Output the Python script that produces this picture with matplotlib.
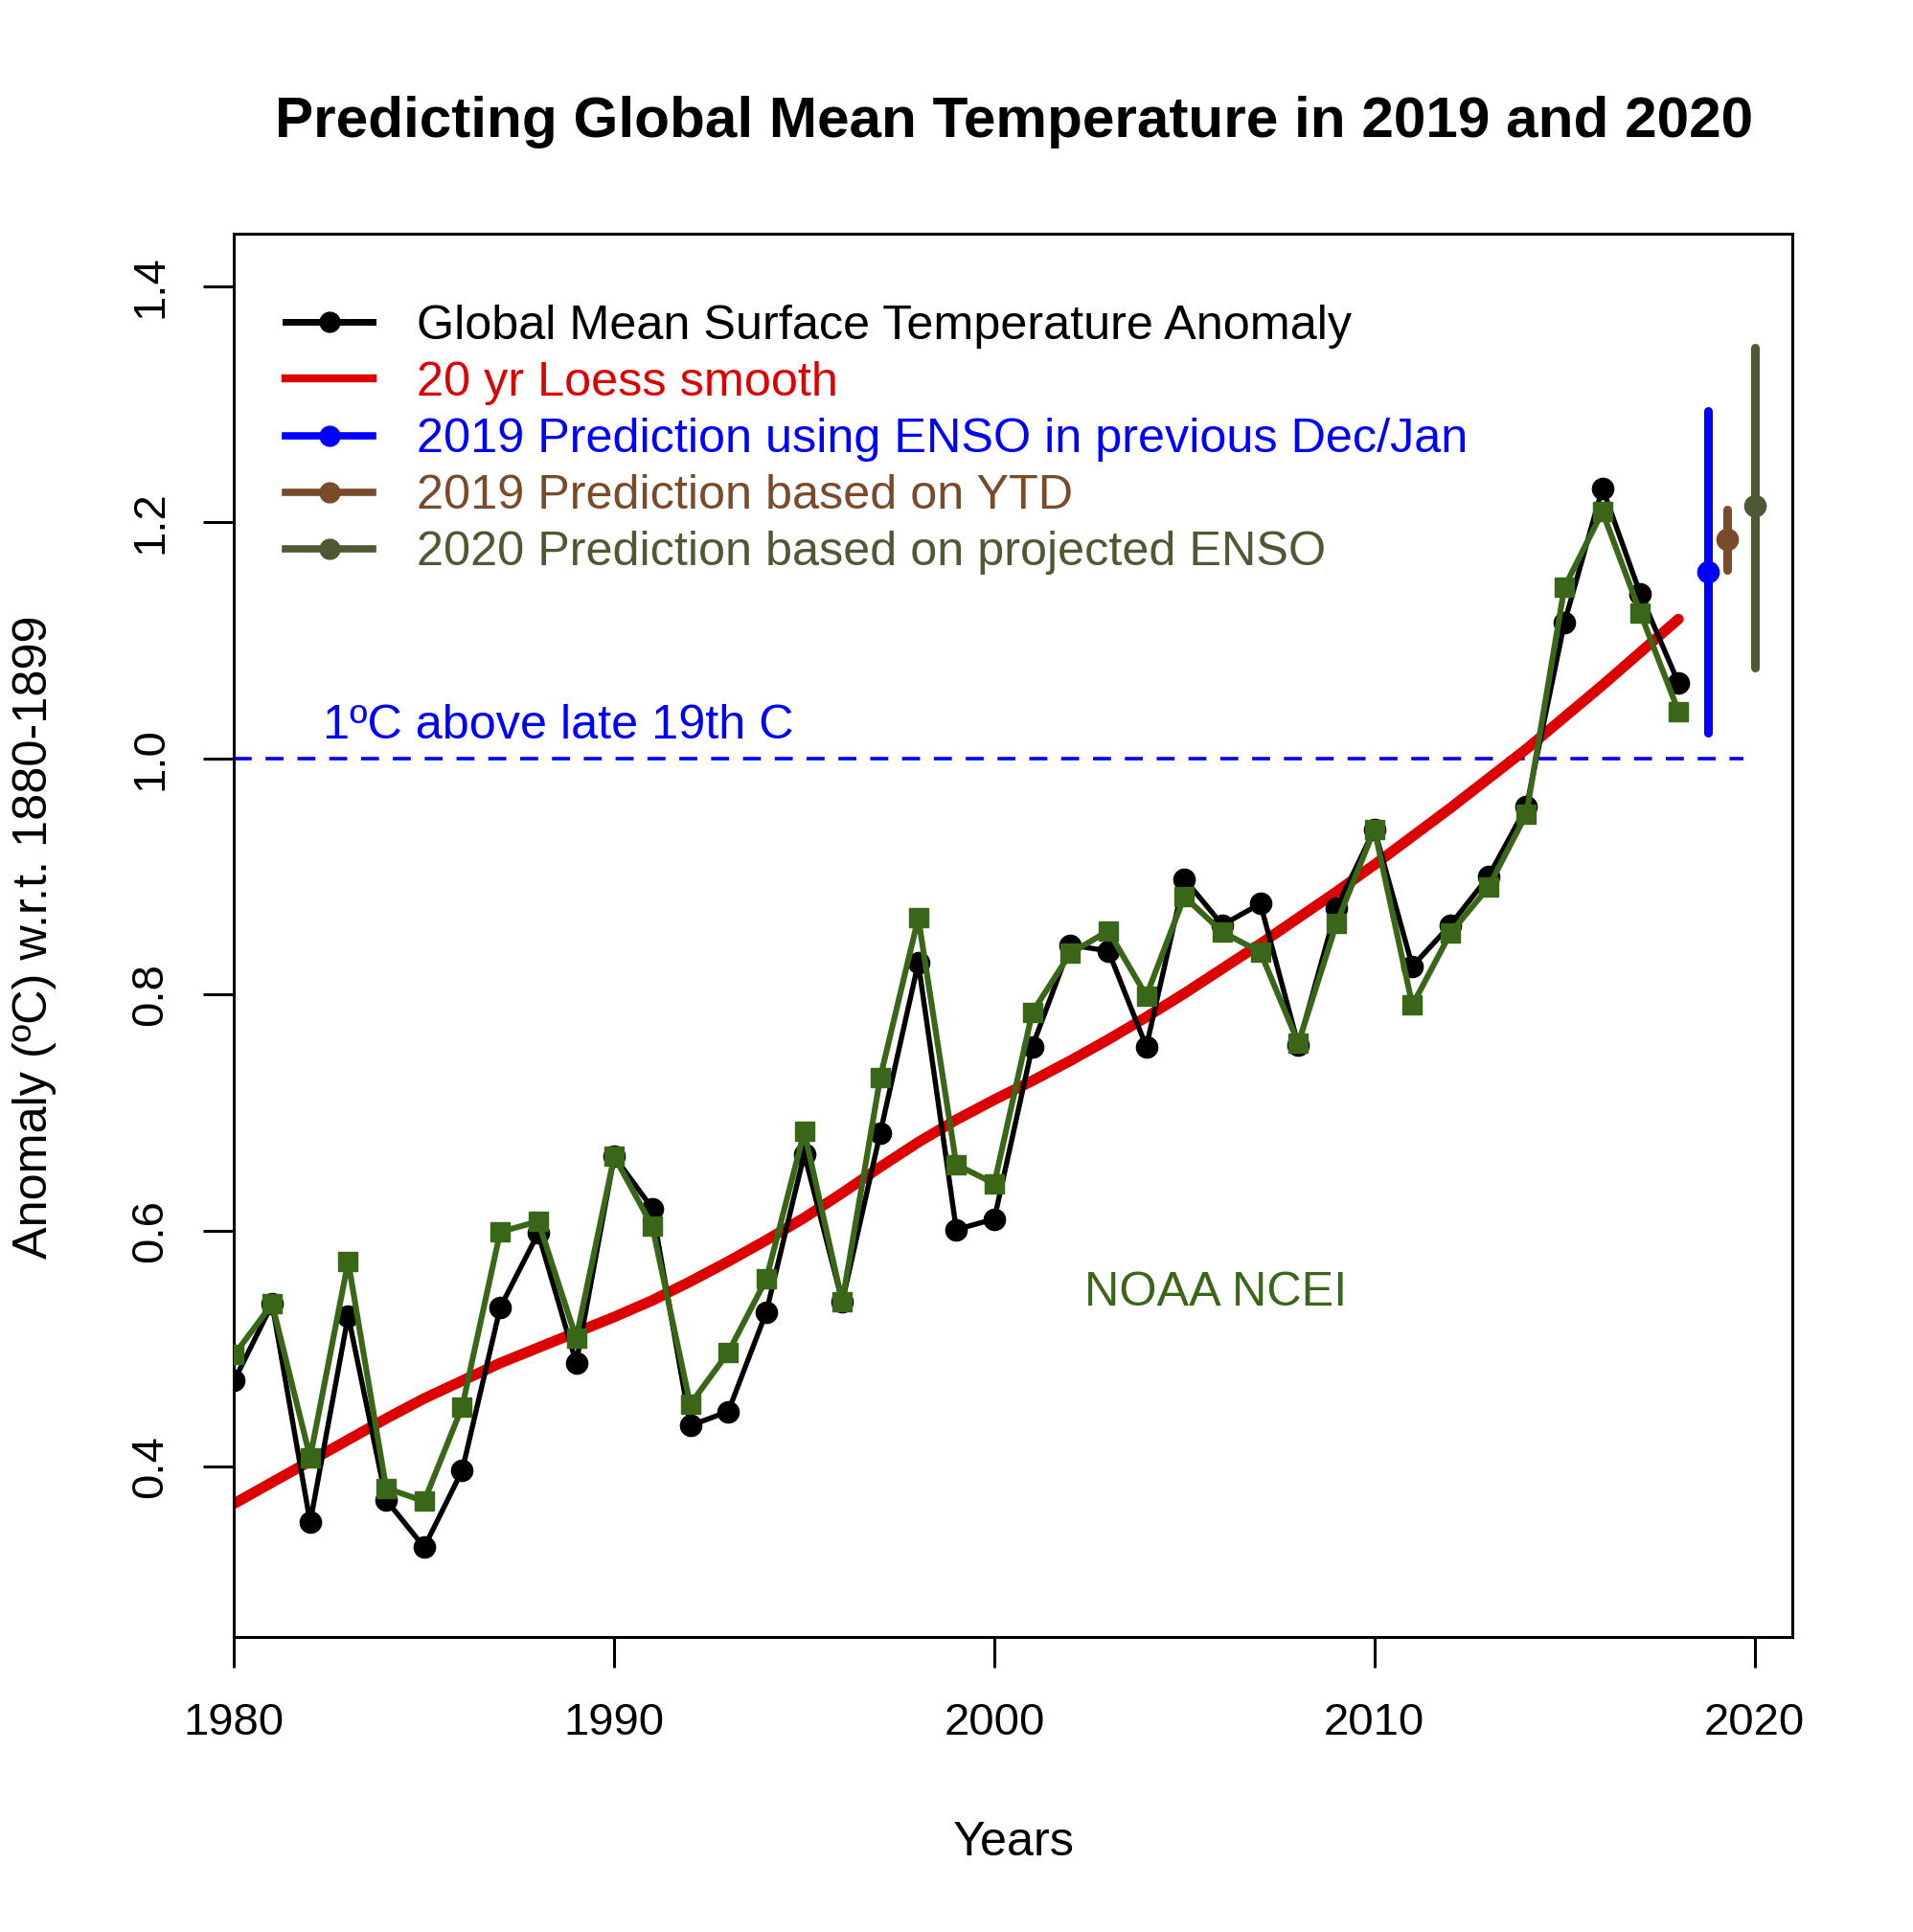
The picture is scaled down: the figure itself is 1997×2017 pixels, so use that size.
import matplotlib.pyplot as plt
from matplotlib.lines import Line2D
import numpy as np

plt.rcParams['font.family'] = ['Liberation Sans', 'DejaVu Sans']

TICK_SIZE = 34
TEXT_SIZE = 36.3

years = np.arange(1980, 2019)

# black: global mean surface temperature anomaly
gmst = [0.473, 0.538, 0.353, 0.528, 0.372, 0.332, 0.397, 0.535, 0.598, 0.488,
        0.663, 0.619, 0.435, 0.447, 0.531, 0.665, 0.540, 0.683, 0.827, 0.601,
        0.610, 0.756, 0.842, 0.837, 0.756, 0.898, 0.859, 0.877, 0.757, 0.873,
        0.940, 0.824, 0.859, 0.900, 0.959, 1.115, 1.229, 1.139, 1.064]

# green squares: NOAA NCEI
ncei = [0.495, 0.538, 0.408, 0.574, 0.382, 0.371, 0.451, 0.599, 0.608, 0.509,
        0.663, 0.604, 0.453, 0.497, 0.559, 0.684, 0.540, 0.730, 0.865, 0.656,
        0.640, 0.785, 0.835, 0.854, 0.799, 0.883, 0.853, 0.836, 0.759, 0.860,
        0.940, 0.791, 0.852, 0.891, 0.953, 1.145, 1.209, 1.123, 1.040]

# red: 20 yr loess smooth
loess = [0.369, 0.387, 0.405, 0.423, 0.441, 0.458, 0.473, 0.488, 0.501, 0.514,
         0.527, 0.541, 0.557, 0.574, 0.592, 0.611, 0.632, 0.654, 0.675, 0.694,
         0.711, 0.727, 0.744, 0.762, 0.781, 0.801, 0.822, 0.843, 0.865, 0.887,
         0.910, 0.934, 0.958, 0.983, 1.008, 1.035, 1.062, 1.090, 1.118]

# predictions: x position, central value, low, high
pred_x = [2018.77, 2019.28, 2020.0]
pred_mid = [1.158, 1.186, 1.214]
pred_lo = [1.022, 1.160, 1.077]
pred_hi = [1.294, 1.211, 1.348]
pred_colors = ['#0000ff', '#7a4b2a', '#4c5a33']
pred_labels = ['2019 Prediction using ENSO in previous Dec/Jan',
               '2019 Prediction based on YTD',
               '2020 Prediction based on projected ENSO']

GREEN = '#3a6618'
RED = '#dd0000'

fig = plt.figure(figsize=(19.97, 20.17), dpi=100)
ax = fig.add_axes([0.1224, 0.1527, 0.8146, 0.7261])

ax.plot([1980, 2019.7], [1.0, 1.0], color='#0000ff', linewidth=2.6,
        dashes=(5.2, 4.0))
ax.plot(years, loess, color=RED, linewidth=8, solid_capstyle='round', zorder=2)
ax.plot(years, gmst, color='black', linewidth=3.9, marker='o', markersize=16,
        zorder=3)
ax.plot(years, ncei, color=GREEN, linewidth=4.4, marker='s', markersize=15,
        zorder=4)

for x, m, lo, hi, c in zip(pred_x, pred_mid, pred_lo, pred_hi, pred_colors):
    ax.plot([x, x], [lo, hi], color=c, linewidth=6.5, solid_capstyle='round')
    ax.plot([x], [m], color=c, marker='o', markersize=16)

ax.text(1982.33, 1.0165, '1ºC above late 19th C', color='#0000ff',
        fontsize=TEXT_SIZE, ha='left', va='baseline')
ax.text(2002.38, 0.537, 'NOAA NCEI', color=GREEN, fontsize=TEXT_SIZE,
        ha='left', va='baseline')

ax.set_xlim(1980, 2021)
ax.set_ylim(0.256, 1.444)
ax.set_xticks([1980, 1990, 2000, 2010, 2020])
ax.set_yticks([0.4, 0.6, 0.8, 1.0, 1.2, 1.4])
ax.set_yticklabels(['0.4', '0.6', '0.8', '1.0', '1.2', '1.4'])
ax.tick_params(axis='both', length=23, width=2.2, labelsize=TICK_SIZE)
ax.tick_params(axis='x', pad=26)
ax.tick_params(axis='y', pad=24)
plt.setp(ax.get_yticklabels(), rotation=90, va='center')
for s in ax.spines.values():
    s.set_linewidth(2.2)

handles = [Line2D([], [], color='black', linewidth=5, marker='o', markersize=15),
           Line2D([], [], color=RED, linewidth=6)]
for c in pred_colors:
    handles.append(Line2D([], [], color=c, linewidth=5.5, marker='o', markersize=15))
labels = ['Global Mean Surface Temperature Anomaly', '20 yr Loess smooth'] + pred_labels
ax.legend(handles, labels, loc='upper left', bbox_to_anchor=(0.0332, 0.9498),
          frameon=False, fontsize=TEXT_SIZE, handlelength=1.79,
          handletextpad=0.91, labelspacing=0.26, labelcolor='linecolor',
          borderaxespad=0, borderpad=0)

fig.text(0.53, 0.937, 'Predicting Global Mean Temperature in 2019 and 2020',
         fontsize=43.4, fontweight='bold', ha='center', va='center')
fig.text(0.53, 0.0462, 'Years', fontsize=TEXT_SIZE, ha='center', va='center')
fig.text(0.018, 0.515, 'Anomaly (ºC) w.r.t. 1880-1899', fontsize=TEXT_SIZE,
         rotation=90, ha='center', va='center')

fig.savefig('out.png', dpi=100)
